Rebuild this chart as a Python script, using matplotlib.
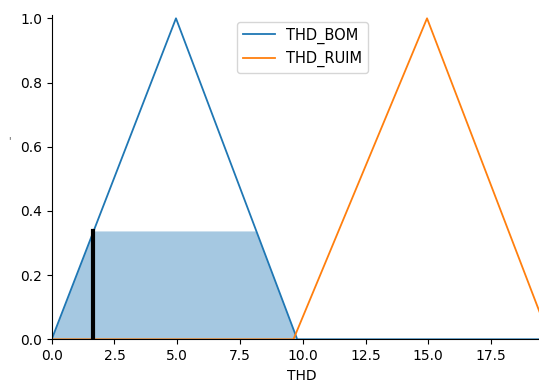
import numpy as np
import matplotlib
matplotlib.use("Agg")
import matplotlib.pyplot as plt

# membership functions of THD (vertices)
bom_x = [0.0, 4.95, 9.78, 19.5]
bom_y = [0.0, 1.0, 0.0, 0.0]
ruim_x = [0.0, 9.63, 14.95, 19.85]
ruim_y = [0.0, 0.0, 1.0, 0.0]

# activated region for the crisp input
thd_input = 1.66
thd_level = 0.336
act_x = [0.0, thd_input, 8.16, 9.78]
act_y = [0.0, thd_level, thd_level, 0.0]

fig = plt.figure(figsize=(5.39, 3.85), dpi=100)
ax = fig.add_axes([51.7 / 539, 1 - 339.3 / 385, 1 - 51.7 / 539, (339.3 - 15) / 385])

ax.plot(bom_x, bom_y, color='C0', lw=1.3, label='THD_BOM')
ax.plot(ruim_x, ruim_y, color='C1', lw=1.3, label='THD_RUIM')
ax.fill_between(act_x, 0, act_y, facecolor='C0', alpha=0.4)
ax.plot([thd_input, thd_input], [0, thd_level], color='k', lw=3)

ax.set_xlim(0, 19.41)
ax.set_ylim(0, 1.0103)
ax.set_xticks([0, 2.5, 5, 7.5, 10, 12.5, 15, 17.5])
ax.set_yticks([0, 0.2, 0.4, 0.6, 0.8, 1.0])
ax.spines['top'].set_visible(False)
ax.spines['right'].set_visible(False)

ax.set_xlabel('THD')
ax.xaxis.set_label_coords((301.7 - 51.7) / (539 - 51.7), -0.092)
fig.text(9.5 / 539, 1 - 141 / 385, "'", fontsize=7, color='0.3', ha='center', va='center')

ax.legend(loc='upper left', bbox_to_anchor=(236.7 / 539, 1 - 21.7 / 385),
          bbox_transform=fig.transFigure, borderaxespad=0, fontsize=10.5,
          handlelength=2.2)

fig.savefig('out.png', dpi=100)
